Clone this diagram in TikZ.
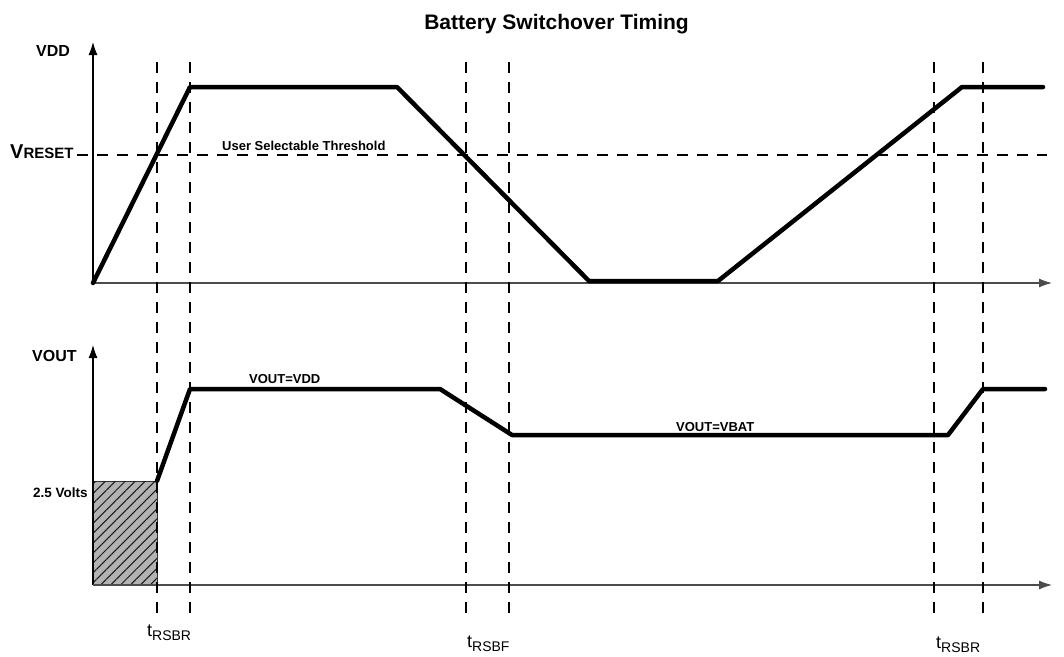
\documentclass[tikz,border=0pt]{standalone}
\usepackage{fontspec}
\setmainfont{Liberation Sans}
\usetikzlibrary{arrows.meta, positioning, patterns.meta}

\newcommand{\tsub}[1]{{\fontsize{18}{18}\selectfont t}\raisebox{-4pt}{\fontsize{14}{14}\selectfont #1}}

\tikzset{
  wave/.style={line width=4.5pt, line join=round, line cap=round},
  guide/.style={line width=1.3pt, dash pattern=on 11pt off 9pt},
  axis/.style={line width=1.1pt, -{Latex[length=13pt,width=9pt]}},
  lab/.style={font=\bfseries\fontsize{#1}{#1}\selectfont, inner sep=0pt},
}

\begin{document}
\begin{tikzpicture}[x=1pt,y=-1pt]
  \useasboundingbox (0,0) rectangle (1064,656);

  % title
  \node[lab=21, anchor=base east] (title) at (689,29) {Battery Switchover Timing};

  % upper plot: VDD
  \coordinate (o1) at (93,283);
  \coordinate (y1) at (93,42);
  \coordinate (x1) at (1052,283);
  \draw[axis] (o1) -- (y1);
  \draw[axis, black!70] (o1) -- (x1);
  \node[lab=16, anchor=base west] (vdd) at (36,56) {VDD};
  \node[anchor=base west, inner sep=0pt, font=\bfseries] (vreset) at (10,158)
    {{\fontsize{20}{20}\selectfont V}{\fontsize{15}{15}\selectfont RESET}};
  \coordinate (r1) at (77,155);
  \coordinate (r2) at (1047,155);
  \draw[guide] (r1) -- (r2);
  \node[lab=13, anchor=base west] (thr) at (222,150) {User Selectable Threshold};

  \coordinate (a1) at (190,87);
  \coordinate (a2) at (397,87);
  \coordinate (a3) at (589,281);
  \coordinate (a4) at (718,281);
  \coordinate (a5) at (962,87);
  \coordinate (a6) at (1043,87);
  \draw[wave] (o1) -- (a1) -- (a2) -- (a3) -- (a4) -- (a5) -- (a6);

  % lower plot: VOUT
  \coordinate (o2) at (93,585);
  \coordinate (y2) at (93,345);
  \coordinate (x2) at (1052,585);
  \coordinate (h1) at (157,481);
  \filldraw[fill=black!30, draw=black!80, line width=0.8pt] (o2) rectangle (h1);
  \fill[pattern={Lines[angle=45, distance=7pt, line width=1pt]}, pattern color=black!90] (o2) rectangle (h1);
  \draw[axis] (o2) -- (y2);
  \draw[axis, black!70] (o2) -- (x2);
  \node[lab=16, anchor=base west] (vout) at (32,361) {VOUT};
  \node[lab=13.5, anchor=base west] (volts) at (33,497) {2.5 Volts};

  \coordinate (b1) at (190,389);
  \coordinate (b2) at (440,389);
  \coordinate (b3) at (512,435);
  \coordinate (b4) at (948,435);
  \coordinate (b5) at (983,389);
  \coordinate (b6) at (1045,389);
  \draw[wave] (h1) -- (b1) -- (b2) -- (b3) -- (b4) -- (b5) -- (b6);
  \node[lab=13, anchor=base west] (eqvdd) at (249,383) {VOUT=VDD};
  \node[lab=13, anchor=base west] (eqvbat) at (676,431) {VOUT=VBAT};

  % timing guides
  \foreach \gx [count=\i] in {157,190,466,509,934,983} {
    \coordinate (g\i t) at (\gx,62);
    \coordinate (g\i b) at (\gx,617);
    \draw[guide] (g\i t) -- (g\i b);
  }
  \node[anchor=base west, inner sep=0pt] (t1) at (147,636) {\tsub{RSBR}};
  \node[anchor=base west, inner sep=0pt] (t2) at (467,647) {\tsub{RSBF}};
  \node[anchor=base west, inner sep=0pt] (t3) at (936,648) {\tsub{RSBR}};
\end{tikzpicture}
\end{document}
